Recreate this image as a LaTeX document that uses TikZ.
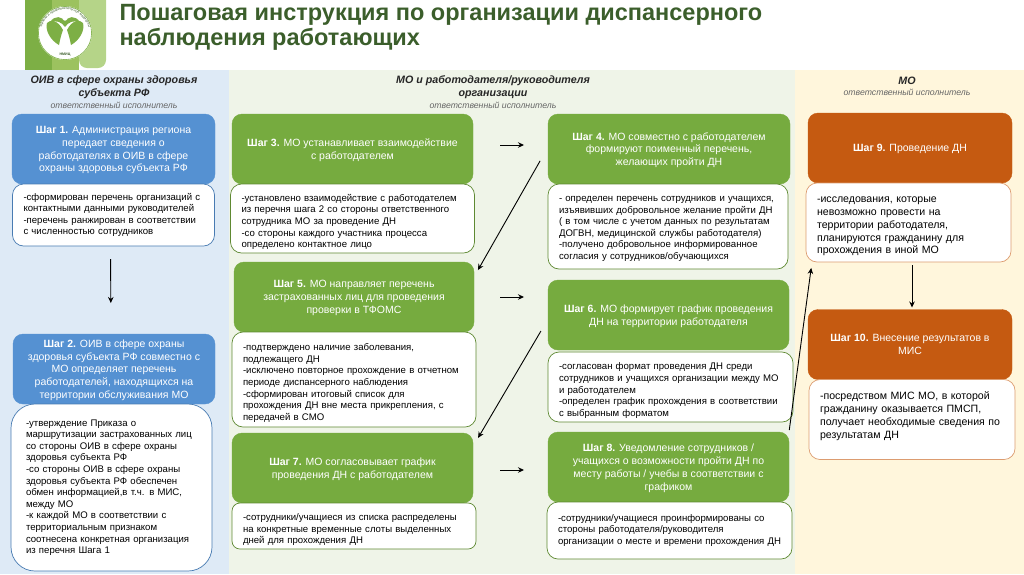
\documentclass[tikz,border=0pt]{standalone}
\usepackage{fontspec}
\setmainfont{Liberation Sans}
\usepackage{tikz}
\usetikzlibrary{arrows.meta, positioning, decorations.text}

\definecolor{bandblue}{HTML}{DEEAF6}
\definecolor{bandgreen}{HTML}{EFF4E8}
\definecolor{bandyellow}{HTML}{FFF6DC}
\definecolor{stepblue}{HTML}{5591D2}
\definecolor{stepgreen}{HTML}{76AB3F}
\definecolor{steporange}{HTML}{C55A11}
\definecolor{titlegreen}{HTML}{3B5E2B}
\definecolor{logodark}{HTML}{7DAF45}
\definecolor{logomid}{HTML}{9CC25F}
\definecolor{logolight}{HTML}{B5D488}

\begin{document}
\begin{tikzpicture}[
    x=1pt, y=-1pt,
    every node/.style={font=\fontsize{10.5}{12.8}\selectfont, outer sep=0pt},
    stepbox/.style={
        rectangle,
        rounded corners=10pt,
        text=white,
        text depth=-2.5pt,
        minimum height=70pt,
        align=center,
        inner xsep=6pt
    },
    blue step/.style={stepbox, fill=stepblue, draw=stepblue},
    green step/.style={stepbox, fill=stepgreen, draw=stepgreen},
    orange step/.style={stepbox, fill=steporange, draw=steporange},
    note/.style={
        rectangle,
        rounded corners=11pt,
        fill=white,
        line width=0.7pt,
        align=left,
        inner xsep=11pt,
        inner ysep=0pt,
        font=\fontsize{9.6}{11.6}\selectfont
    },
    push/.style={execute at begin node={\rule{0pt}{#1}}},
    blue note/.style={note, draw=stepblue!85!black},
    green note/.style={note, draw=stepgreen!80!black},
    orange note/.style={note, draw=steporange!60!white, font=\fontsize{10.6}{12.8}\selectfont},
    head/.style={font=\fontsize{10.7}{12.8}\selectfont\bfseries\itshape, align=center, text=black!85},
    duty/.style={font=\fontsize{8.7}{10}\selectfont\itshape, text=black!60},
    arrow/.style={-{Stealth[length=6pt, width=5.5pt]}, line width=0.9pt}
]

\useasboundingbox (0,0) rectangle (1024,574);

% bands
\fill[bandblue] (0,70) rectangle (229,574);
\fill[bandgreen] (229,70) rectangle (795,574);
\fill[bandyellow] (795,70) rectangle (1024,574);

% logo
\fill[logolight, rounded corners=8pt] (79,-10) rectangle (106,68);
\fill[logomid] (52,0) rectangle (79,70);
\fill[logodark] (25,0) rectangle (52,70);
\fill[white] (65,33) circle (27);
\draw[logodark, line width=0.6pt] (65,33) circle (26.6);
\fill[logodark] (63,30) .. controls (58,20) and (50,19) .. (47,23) .. controls (45,30) and (50,40) .. (59,45) .. controls (60,40) and (61,35) .. (63,30);
\fill[logodark] (67,30) .. controls (72,20) and (80,19) .. (83,23) .. controls (85,30) and (80,40) .. (71,45) .. controls (70,40) and (69,35) .. (67,30);
\fill[logodark] (50,22) .. controls (55,15) and (62,16) .. (65,22) .. controls (68,16) and (75,15) .. (80,22) .. controls (74,20) and (68,22) .. (65,27) .. controls (62,22) and (56,20) .. (50,22);
\fill[logodark] (65,23) circle (2.6);
\path[decorate, decoration={text along path, text align=center,
    text={|\fontsize{3.4}{4}\selectfont\color{titlegreen}|терапии и профилактической медицины}}]
    (41.5,43) .. controls (36,25) and (50,9.5) .. (65,9.5) .. controls (80,9.5) and (94,25) .. (88.5,43);
\node[font=\fontsize{3.6}{4}\selectfont\bfseries, text=titlegreen, inner sep=0pt] (logotext) at (65,55) {НМИЦ};

% title
\node[font=\fontsize{23.5}{25}\selectfont\bfseries, text=titlegreen, align=left, anchor=north west, inner sep=0pt] (title) at (119.5,4)
{Пошаговая инструкция по организации диспансерного\\наблюдения работающих};

% column heads
\node[head] (head1) at (114,87.5) {ОИВ в сфере охраны здоровья\\субъекта РФ};
\node[duty] (duty1) at (114,105.5) {ответственный исполнитель};
\node[head] (head2) at (493,87.5) {МО и работодателя/руководителя\\организации};
\node[duty] (duty2) at (493,105.5) {ответственный исполнитель};
\node[head] (head3) at (907,80.5) {МО};
\node[duty] (duty3) at (907,92) {ответственный исполнитель};

% steps
\node[blue step, minimum width=203pt] (step1) at (113.5,149)
{\textbf{Шаг 1.} Администрация региона\\передает сведения о\\работодателях в ОИВ в сфере\\охраны здоровья субъекта РФ};
\node[blue step, minimum width=202pt] (step2) at (114,369)
{\textbf{Шаг 2.} ОИВ в сфере охраны\\здоровья субъекта РФ совместно с\\МО определяет перечень\\работодателей, находящихся на\\территории обслуживания МО};
\node[green step, minimum width=241pt] (step3) at (352.5,149)
{\textbf{Шаг 3.} МО устанавливает взаимодействие\\с работодателем};
\node[green step, minimum width=242pt] (step4) at (669,149)
{\textbf{Шаг 4.} МО совместно с работодателем\\формируют поименный перечень,\\желающих пройти ДН};
\node[green step, minimum width=240pt] (step5) at (354,297)
{\textbf{Шаг 5.} МО направляет перечень\\застрахованных лиц для проведения\\проверки в ТФОМС};
\node[green step, minimum width=241pt] (step6) at (668.5,315)
{\textbf{Шаг 6.} МО формирует график проведения\\ДН на территории работодателя};
\node[green step, minimum width=241pt] (step7) at (352.5,468)
{\textbf{Шаг 7.} МО согласовывает график\\проведения ДН с работодателем};
\node[green step, minimum width=241pt] (step8) at (668.5,467)
{\textbf{Шаг 8.} Уведомление сотрудников /\\учащихся о возможности пройти ДН по\\месту работы / учебы в соответствии с\\графиком};
\node[orange step, minimum width=204pt] (step9) at (910,148)
{\textbf{Шаг 9.} Проведение ДН};
\node[orange step, minimum width=204pt] (step10) at (910,344.5)
{\textbf{Шаг 10.} Внесение результатов в\\МИС};

% notes
\node[blue note, below=0pt of step1, text width=180pt, minimum height=62pt] (note1)
{-сформирован перечень организаций с\\контактными данными руководителей\\-перечень ранжирован в соответствии\\с численностью сотрудников};
\node[blue note, below=0pt of step2, xshift=-2.5pt, text width=171pt, minimum height=167pt, inner xsep=15pt, rounded corners=24pt] (note2)
{-утверждение Приказа о\\маршрутизации застрахованных лиц\\со стороны ОИВ в сфере охраны\\здоровья субъекта РФ\\-со стороны ОИВ в сфере охраны\\здоровья субъекта РФ обеспечен\\обмен информацией,в т.ч. в МИС,\\между МО\\-к каждой МО в соответствии с\\территориальным признаком\\соотнесена конкретная организация\\из перечня Шага 1};
\node[green note, below=0pt of step3, text width=222pt, minimum height=69pt, push=14pt] (note3)
{-установлено взаимодействие с работодателем\\из перечня шага 2 со стороны ответственного\\сотрудника МО за проведение ДН\\-со стороны каждого участника процесса\\определено контактное лицо};
\node[green note, below=0pt of step4, xshift=-1pt, text width=218pt, minimum height=85pt, push=10pt] (note4)
{- определен перечень сотрудников и учащихся,\\изъявивших добровольное желание пройти ДН\\( в том числе с учетом данных по результатам\\ДОГВН, медицинской службы работодателя)\\-получено добровольное информированное\\согласия у сотрудников/обучающихся};
\node[green note, below=0pt of step5, text width=222pt, minimum height=95pt, push=14pt] (note5)
{-подтверждено наличие заболевания,\\подлежащего ДН\\-исключено повторное прохождение в отчетном\\периоде диспансерного наблюдения\\-сформирован итоговый список для\\прохождения ДН вне места прикрепления, с\\передачей в СМО};
\node[green note, below=2pt of step6, xshift=2pt, text width=223pt, minimum height=70pt, push=14pt] (note6)
{-согласован формат проведения ДН среди\\сотрудников и учащихся организации между МО\\и работодателем\\-определен график прохождения в соответствии\\с выбранным форматом};
\node[green note, below=0pt of step7, xshift=1.5pt, text width=222pt, minimum height=46pt, rounded corners=8pt, push=14pt] (note7)
{-сотрудники/учащиеся из списка распределены\\на конкретные временные слоты выделенных\\дней для прохождения ДН};
\node[green note, below=0pt of step8, xshift=1pt, text width=223pt, minimum height=57pt] (note8)
{-сотрудники/учащиеся проинформированы со\\стороны работодателя/руководителя\\организации о месте и времени прохождения ДН};
\node[orange note, below=0pt of step9, xshift=-1.5pt, text width=183pt, minimum height=79pt, push=13.7pt] (note9)
{-исследования, которые\\невозможно провести на\\территории работодателя,\\планируются гражданину для\\прохождения в иной МО};
\node[orange note, below=0pt of step10, xshift=2pt, text width=184pt, minimum height=80pt, push=11.7pt] (note10)
{-посредством МИС МО, в которой\\гражданину оказывается ПМСП,\\получает необходимые сведения по\\результатам ДН\\~};

% arrows
\draw[arrow, shorten <=13pt, shorten >=31pt] ([xshift=-3pt]note1.south) -- ([xshift=-3pt]step2.north);
\draw[arrow, shorten <=27pt, shorten >=24pt] ([yshift=4pt]step3.east) -- ([yshift=4pt]step4.west);
\draw[arrow, shorten <=16pt, shorten >=8pt] ([yshift=2pt]step4.west) -- ([yshift=20pt]step5.east);
\draw[arrow, shorten <=26pt, shorten >=24pt] (step5.east) -- (step5.east -| step6.west);
\draw[arrow, shorten <=14pt, shorten >=10pt] ([yshift=-4pt]step6.west) -- ([yshift=21.5pt]step7.east);
\draw[arrow, shorten <=27pt, shorten >=24pt] ([yshift=-2pt]step7.east) -- ([yshift=-2pt]step7.east -| step8.west);
\draw[arrow, shorten <=2pt, shorten >=6pt] (step8.north east) -- ([xshift=6pt]note9.south west);
\draw[arrow, shorten <=3pt, shorten >=2pt] ([xshift=3.5pt]note9.south) -- ([xshift=2pt]step10.north);

\end{tikzpicture}
\end{document}
